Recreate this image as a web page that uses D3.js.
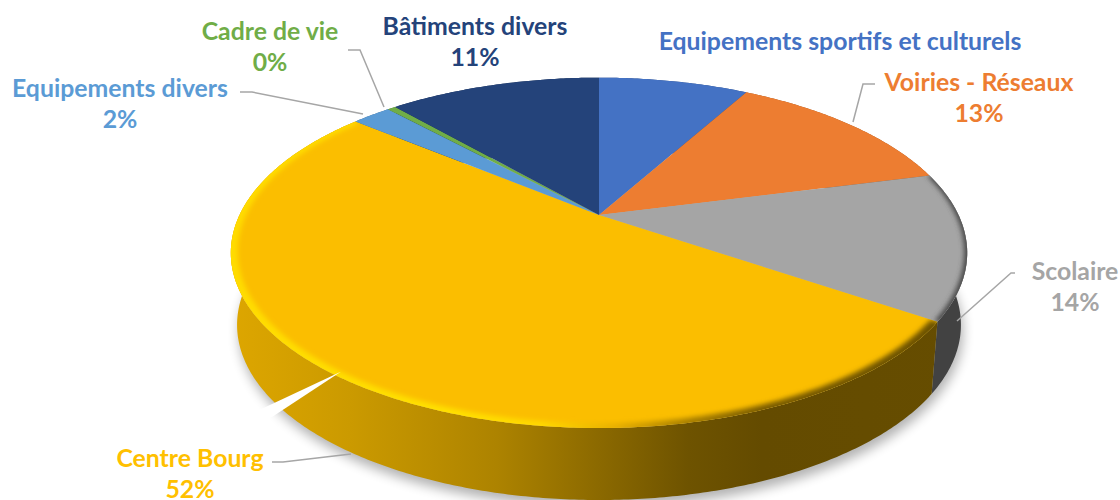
<!DOCTYPE html>
<html lang="fr">
<head>
<meta charset="utf-8">
<title>Répartition des investissements</title>
<script src="https://cdn.jsdelivr.net/npm/d3@7"></script>
<style>
  html, body { margin: 0; padding: 0; background: #fff; }
  svg { display: block; }
  text { font-family: Lato, "Open Sans", sans-serif; font-weight: 700; font-size: 24.8px; text-anchor: middle; dominant-baseline: central; }
</style>
</head>
<body>
<svg id="chart" width="1120" height="500"></svg>
<script>
// Sector names and shares, clockwise from twelve o'clock
const categories = ["Equipements sportifs et culturels", "Voiries - Réseaux", "Scolaire", "Centre Bourg", "Equipements divers", "Cadre de vie", "Bâtiments divers"];
const shares = [8.1, 12.9, 13.5, 51.5, 2.1, 0.45, 11.45];
const showPercent = [false, true, true, true, true, true, true];
const colors = ["#4472C4", "#ED7D31", "#A5A5A5", "#FBBE00", "#5B9BD5", "#70AD47", "#24437A"];

// Label centres and leader polylines, indexed like the sectors
const labelX = [840, 979, 1075, 190, 120, 270, 475];
const labelY = [40, 81, 270, 457, 87, 30, 25];
const leaders = [
  null,
  [[875, 84], [863, 84], [853, 122]],
  [[1015, 273], [1011, 273], [957, 321]],
  [[272, 462], [283, 462], [351, 454]],
  [[240, 92], [252, 92], [363, 114]],
  [[348, 50], [360, 50], [384, 107]],
  null
];

const svg = d3.select("#chart");
const defs = svg.append("defs");

// Tilted-disc projection: a unit disc seen in perspective.
// The base is the same disc lowered and drawn slightly narrower.
const disc = { cx: 599, cy: 215, a: 167, b: 359.5, k: 0.216 };
const base = { drop: 72, squeeze: 0.983 };
function project(angle, r, isBase = false) {
  const u = r * Math.sin(angle), v = -r * Math.cos(angle);
  const d = 1 - disc.k * v;
  const w = isBase ? base.squeeze : 1;
  return [disc.cx + disc.b * w * u / d, disc.cy + disc.a * v / d + (isBase ? base.drop : 0)];
}
const line = d3.line();
const arcPoints = (a0, a1, r, isBase = false) => {
  const n = Math.max(2, Math.ceil((a1 - a0) / 0.01));
  return d3.range(n + 1).map(i => project(a0 + (a1 - a0) * i / n, r, isBase));
};

const pie = d3.pie().sort(null).value(d => d);
const slices = pie(shares);

// Filters
const soft = (id, s) => defs.append("filter").attr("id", id)
  .attr("x", "-10%").attr("y", "-10%").attr("width", "120%").attr("height", "120%")
  .append("feGaussianBlur").attr("stdDeviation", s);
soft("shadowBlur", 6);
soft("bevelBlur", 2.4);

// Wall shading and bevel ramps run left to right across the whole disc
const ramp = (id, stops) => defs.append("linearGradient").attr("id", id)
  .attr("gradientUnits", "userSpaceOnUse").attr("x1", 232).attr("x2", 968).attr("y1", 0).attr("y2", 0)
  .selectAll("stop").data(stops).join("stop")
  .attr("offset", d => d[0]).attr("stop-color", d => d[1]);
ramp("wallYellow", [[0, "#DDA600"], [0.16, "#CB9A00"], [0.36, "#AD8300"], [0.5, "#8B6900"], [0.62, "#6E5300"], [0.72, "#644B00"], [1, "#664D00"]]);
ramp("bevelYellow", [[0, "#FFDC00"], [0.3, "#FFE000"], [0.42, "#FFD800"], [0.52, "#E8B000"], [0.62, "#A87F00"], [0.72, "#7A5C00"], [1, "#6A5000"]]);

// Drop shadow under the base of the pie
svg.append("path")
  .attr("d", line(arcPoints(0, 2 * Math.PI, 1, true)) + "Z")
  .attr("transform", "translate(2,7)")
  .attr("fill", "#000").attr("opacity", 0.3)
  .attr("filter", "url(#shadowBlur)");

// Outer walls, one band per sector
const wallFill = i => i === 3 ? "url(#wallYellow)" : i === 2 ? "#424242" : d3.color(colors[i]).darker(1.2);
svg.append("g").selectAll("path").data(slices).join("path")
  .attr("d", s => line(arcPoints(s.startAngle, s.endAngle, 1).concat(arcPoints(s.startAngle, s.endAngle, 1, true).reverse())) + "Z")
  .attr("fill", s => wallFill(s.index));

// Top faces
const facePath = s => line([project(0, 0)].concat(arcPoints(s.startAngle, s.endAngle, 1))) + "Z";
svg.append("g").selectAll("path").data(slices).join("path")
  .attr("d", facePath)
  .attr("fill", s => colors[s.index]);

// Rounded rim of the two front sectors
slices.forEach(s => {
  defs.append("clipPath").attr("id", "faceClip" + s.index)
    .append("path").attr("d", facePath(s));
});
const rimBand = (s, inner) => line(arcPoints(s.startAngle, s.endAngle, 1.02)
  .concat(arcPoints(s.startAngle, s.endAngle, inner).reverse())) + "Z";

svg.append("g").attr("clip-path", "url(#faceClip3)").append("path")
  .attr("d", rimBand(slices[3], 0.982))
  .attr("fill", "url(#bevelYellow)")
  .attr("filter", "url(#bevelBlur)");
svg.append("g").attr("clip-path", "url(#faceClip2)").append("path")
  .attr("d", rimBand(slices[2], 0.992))
  .attr("fill", "#4A4A4A")
  .attr("filter", "url(#bevelBlur)");

// Sliver where the Centre Bourg callout cuts through the wall
const tip = project(217.4 * Math.PI / 180, 0.983);
svg.append("path")
  .attr("d", line([tip, [tip[0] - 81, tip[1] + 38], [tip[0] - 73, tip[1] + 48]]) + "Z")
  .attr("fill", "#fff");

// Leader lines
svg.append("g").selectAll("path").data(leaders.filter(Boolean)).join("path")
  .attr("d", line)
  .attr("fill", "none").attr("stroke", "#A6A6A6").attr("stroke-width", 1.5);

// Labels: name, then rounded share
const pct = d3.format(".0f");
const labels = svg.append("g").selectAll("text").data(slices).join("text")
  .attr("x", s => labelX[s.index])
  .attr("y", s => labelY[s.index])
  .attr("fill", s => s.index === 3 ? "#FFC000" : colors[s.index]);
labels.append("tspan").text(s => categories[s.index]);
labels.filter(s => showPercent[s.index]).append("tspan")
  .attr("x", s => labelX[s.index])
  .attr("dy", 31)
  .text(s => pct(s.value) + "%");
</script>
</body>
</html>
